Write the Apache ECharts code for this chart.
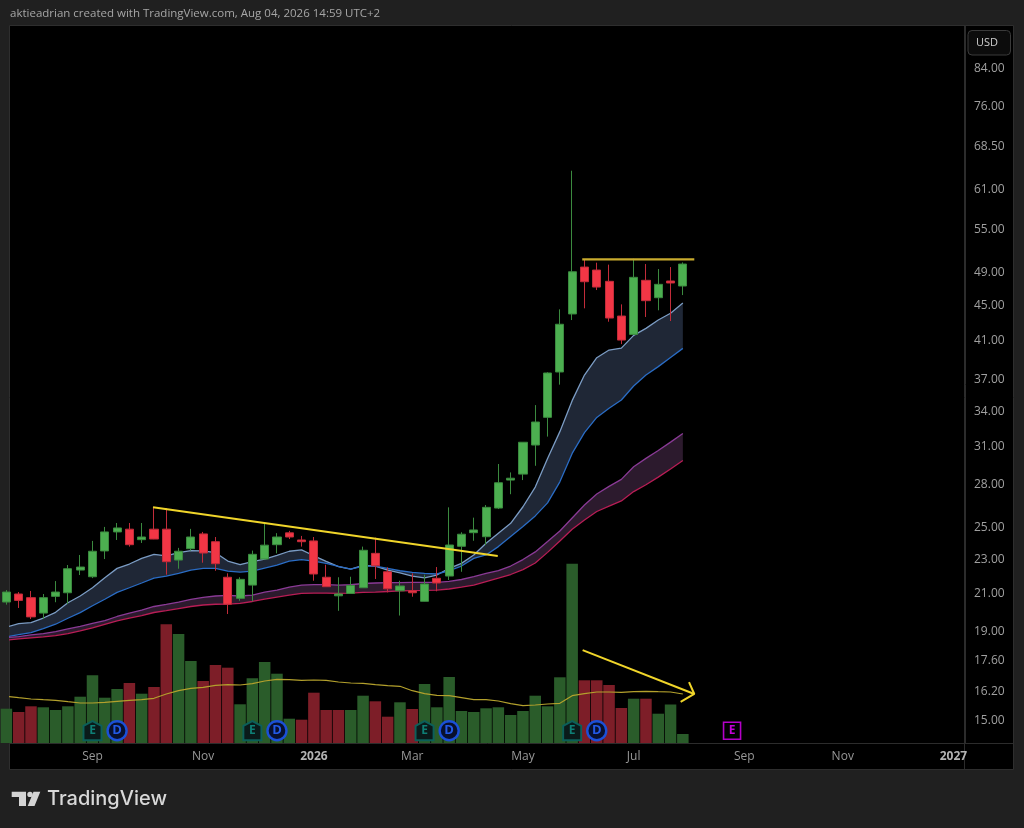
<!DOCTYPE html>
<html><head><meta charset="utf-8">
<style>html,body{margin:0;padding:0;background:#202020}#c{width:1024px;height:828px}</style>
<script src="https://cdn.jsdelivr.net/npm/echarts@6/dist/echarts.min.js"></script>
</head><body><div id="c"></div>
<script>
// Weekly OHLC (USD), index 0 = 2025-08-?? ... index 55 = 2026-08-03
const open  = [20.54,20.98,20.78,19.95,20.85,21.05,22.35,21.96,23.51,24.72,24.90,24.22,24.90,24.90,22.95,23.65,24.59,24.09,21.93,20.74,21.48,23.01,23.90,24.66,24.20,24.14,21.93,20.88,21.01,21.33,23.36,22.25,21.16,21.16,20.58,21.87,22.00,23.80,24.67,24.41,26.33,28.35,28.80,31.10,33.46,37.72,43.97,49.77,49.38,47.93,43.73,41.66,48.06,45.90,47.97,47.34];
const close = [21.09,20.63,19.75,20.78,21.09,22.43,22.53,23.49,24.72,24.98,23.90,24.39,24.26,22.85,23.49,24.39,23.38,22.73,20.42,21.81,23.30,23.87,24.39,24.39,24.09,22.12,21.39,20.98,21.46,23.55,22.60,21.27,21.43,21.05,21.54,21.60,23.88,24.57,24.85,26.38,28.15,28.49,31.33,33.05,37.62,42.79,49.16,47.88,47.21,43.50,41.04,48.44,45.54,47.55,47.72,50.17];
const low   = [20.40,20.22,19.64,19.64,20.53,20.43,22.06,21.88,23.01,24.20,23.78,24.01,24.25,22.08,22.43,23.53,22.79,22.31,19.90,20.61,20.58,23.00,23.36,24.26,23.78,21.73,21.38,20.07,21.00,21.32,21.83,21.07,19.82,20.83,20.57,21.13,21.77,22.25,24.15,23.88,26.26,27.31,28.35,29.44,31.80,36.48,43.27,44.63,46.84,43.08,40.60,41.64,43.62,44.40,43.16,46.22];
const high  = [21.20,21.09,21.15,20.98,21.71,22.65,23.26,24.14,25.05,25.31,25.31,25.31,26.38,26.33,23.70,24.92,24.72,24.39,22.16,21.93,23.53,25.36,24.64,24.79,24.46,24.39,22.67,21.93,21.96,23.78,24.35,22.51,21.73,22.16,22.08,22.53,26.38,24.70,25.67,26.54,29.58,28.93,31.35,34.56,37.69,44.51,64.20,50.71,50.35,50.09,45.10,50.88,50.17,49.51,49.77,50.39];

// Volume, millions of shares
const volume   = [3.43,3.10,3.67,3.57,3.30,3.67,4.63,6.77,4.53,5.40,6.00,4.93,5.60,11.87,10.90,8.20,6.20,7.80,7.53,3.87,6.47,8.10,6.93,2.43,2.33,5.03,3.30,3.30,3.30,4.73,4.17,2.63,4.07,3.40,5.90,3.57,6.60,3.20,3.10,3.47,3.57,2.80,3.20,4.73,3.67,6.57,17.93,6.27,6.27,5.80,3.50,4.43,4.43,2.93,3.85,0.90];
const volumeUp = [1,0,0,1,1,1,1,1,1,1,0,1,0,0,1,1,0,0,0,1,1,1,1,1,0,0,0,0,1,1,0,0,1,0,1,1,1,1,1,1,1,1,1,1,1,1,1,0,0,0,0,1,0,1,1,1];
const volumeMA = [4.67,4.53,4.40,4.33,4.27,4.13,4.00,4.00,4.07,4.17,4.27,4.33,4.47,4.90,5.23,5.47,5.57,5.77,5.83,5.80,5.93,6.20,6.37,6.33,6.27,6.30,6.27,6.10,6.00,5.97,5.83,5.73,5.67,5.23,4.93,4.77,4.73,4.53,4.33,4.33,4.20,3.93,3.73,3.80,3.90,3.97,4.73,4.93,5.10,5.10,5.07,5.13,5.17,5.13,5.10,4.90];

// Moving-average ribbons
const blueUpper = [19.22,19.40,19.45,19.69,19.99,20.50,20.87,21.33,21.90,22.45,22.71,23.05,23.30,23.21,23.40,23.53,23.51,23.40,22.89,22.67,22.85,23.01,23.24,23.49,23.57,23.21,22.87,22.55,22.41,22.63,22.59,22.35,22.19,22.00,21.90,22.06,22.45,22.75,23.26,23.99,24.64,25.29,26.42,27.83,30.02,32.22,34.97,37.42,39.17,39.97,40.18,41.55,42.33,43.27,44.05,45.25];
const blueLower = [18.73,18.85,18.95,19.15,19.37,19.68,19.97,20.34,20.69,21.07,21.33,21.60,21.88,22.00,22.16,22.35,22.45,22.45,22.29,22.23,22.29,22.47,22.65,22.89,22.97,22.89,22.75,22.57,22.41,22.59,22.59,22.45,22.31,22.21,22.16,22.12,22.31,22.59,23.05,23.26,23.78,24.42,25.07,25.79,26.69,28.22,30.42,32.13,33.45,34.27,35.03,36.35,37.42,38.26,39.20,40.15];
const purpleUpper = [18.70,18.75,18.83,18.90,19.00,19.13,19.26,19.41,19.56,19.77,19.95,20.11,20.30,20.41,20.54,20.68,20.79,20.87,20.90,20.87,20.92,21.09,21.20,21.37,21.48,21.51,21.51,21.48,21.50,21.57,21.60,21.62,21.62,21.63,21.63,21.64,21.69,21.80,21.97,22.15,22.32,22.59,22.98,23.45,24.10,24.78,25.65,26.54,27.33,27.88,28.40,29.36,30.02,30.66,31.34,32.07];
const crimsonLower = [18.58,18.63,18.68,18.73,18.80,18.90,19.03,19.18,19.36,19.54,19.69,19.82,19.98,20.08,20.19,20.30,20.38,20.42,20.43,20.47,20.57,20.70,20.81,20.92,21.01,21.03,21.03,21.02,21.03,21.07,21.09,21.12,21.15,21.17,21.18,21.20,21.26,21.36,21.48,21.68,21.88,22.09,22.38,22.77,23.42,24.14,24.89,25.51,26.09,26.47,26.83,27.50,28.00,28.57,29.19,29.85];

// Axis ticks
const priceTicks = [84,76,68.5,61,55,49,45,41,37,34,31,28,25,23,21,19,17.6,16.2,15];
const timeTickIdx = [7,16,25,33,42,51,60,68,77];
const timeTickLabels = ['Sep','Nov','2026','Mar','May','Jul','Sep','Nov','2027'];

// Drawn annotations: [week index, price]
const trendLine = [[11.92,26.38],[39.95,23.20]];
const resistance = [[46.82,50.8],[55.93,50.8]];
const arrowShaft = [[46.85,18.09],[55.93,16.11]];
const arrowHead = [[55.50,16.62],[55.93,16.11],[54.82,15.78]];

// Event markers (week index)
const earnings = [7,20,34,46];
const dividends = [9,22,36,48];
const nextEarnings = [59];
const eventLevel = 1.23;

const pairs = a => a.map((v,i)=>[i,v]);
const COMMON = {animation:false,silent:true};
const X_MIN = 0.293, X_MAX = 77.94;
const tickFont = '"Open Sans"';

function lineS(data,color,width,z,extra){
  return Object.assign({type:'line',data,xAxisIndex:0,yAxisIndex:0,symbol:'none',z,silent:true,
    lineStyle:{color,width},emphasis:{disabled:true}},extra||{});
}
function band(upper,lower,fill){
  return {type:'custom',xAxisIndex:0,yAxisIndex:0,z:3,clip:true,silent:true,
    data:[[0,upper[0]]],encode:{x:0,y:1},
    renderItem:(p,api)=>{
      const pts=upper.map((v,i)=>api.coord([i,v])).concat(lower.map((v,i)=>api.coord([i,v])).reverse());
      return {type:'polygon',shape:{points:pts},style:{fill}};
    }};
}
function marker(list,symbol,size,fill,stroke,bw,txt,txtColor,fs){
  return {type:'scatter',xAxisIndex:1,yAxisIndex:1,z:8,silent:true,symbol,symbolSize:size,
    data:list.map(i=>[i,eventLevel]),
    itemStyle:{color:fill,borderColor:stroke,borderWidth:bw,opacity:1},
    label:{show:true,position:'inside',formatter:txt,color:txtColor,fontSize:fs,fontWeight:'bold',fontFamily:'"Open Sans"'}};
}

const chart = echarts.init(document.getElementById('c'),null,{renderer:'canvas'});
chart.setOption({
  animation:false,
  backgroundColor:'#202020',
  grid:[
    {left:10,top:26,width:955,height:717,containLabel:false},
    {left:10,top:26,width:955,height:717,containLabel:false}
  ],
  xAxis:[
    {type:'value',gridIndex:0,min:X_MIN,max:X_MAX,position:'bottom',
     axisLine:{show:true,onZero:false,lineStyle:{color:'#2c2c2c',width:1}},axisTick:{show:false},splitLine:{show:false},
     axisLabel:{show:true,customValues:timeTickIdx,margin:8,color:'#989898',fontSize:12,fontFamily:tickFont,hideOverlap:false,
       showMinLabel:true,showMaxLabel:true,
       formatter:v=>{const s=timeTickLabels[timeTickIdx.indexOf(Math.round(v))];return /^\d+$/.test(s)?'{b|'+s+'}':s;},
       rich:{b:{fontWeight:'bold',color:'#b4b4b4',fontSize:12,fontFamily:tickFont}}}},
    {type:'value',gridIndex:1,min:X_MIN,max:X_MAX,show:false}
  ],
  yAxis:[
    {type:'log',logBase:10,gridIndex:0,min:14.153,max:94.1,position:'right',
     axisLine:{show:true,onZero:false,lineStyle:{color:'#2c2c2c',width:1}},axisTick:{show:false},splitLine:{show:false},minorTick:{show:false},
     axisLabel:{show:true,customValues:priceTicks,margin:9,color:'#a0a0a0',fontSize:12,fontFamily:tickFont,align:'left',
       showMinLabel:true,showMaxLabel:true,hideOverlap:false,
       formatter:v=>Number(v).toFixed(2)}},
    {type:'value',gridIndex:1,min:0,max:71.7,show:false}
  ],
  graphic:[
    {type:'rect',z:-10,shape:{x:9.5,y:25.5,width:1004,height:744},style:{fill:'#000',stroke:'#2e2e2e',lineWidth:1}},
    {type:'line',z:-5,shape:{x1:964.5,y1:26,x2:964.5,y2:769},style:{stroke:'#2c2c2c',lineWidth:1}},
    {type:'line',z:-5,shape:{x1:965,y1:743.5,x2:1013,y2:743.5},style:{stroke:'#2c2c2c',lineWidth:1}},
    {type:'rect',z:20,shape:{x:968,y:30.5,width:42.5,height:24.5,r:4},style:{fill:'#0c0c0c',stroke:'#3a3a3a',lineWidth:1}},
    {type:'text',z:21,style:{x:987,y:43,text:'USD',fill:'#cfcfcf',font:'11px "Open Sans"',textAlign:'center',textVerticalAlign:'middle'}},
    {type:'text',z:21,style:{x:10,y:13.5,text:'aktieadrian created with TradingView.com, Aug 04, 2026 14:59 UTC+2',fill:'#a6a6a6',font:'11.5px "Open Sans"',textAlign:'left',textVerticalAlign:'middle'}},
    {type:'polygon',z:21,shape:{points:[[11.7,791.7],[26,791.7],[26,806],[19,806],[19,797],[11.7,797]]},style:{fill:'#d4d4d4'}},
    {type:'circle',z:21,shape:{cx:30,cy:794.4,r:2.7},style:{fill:'#d4d4d4'}},
    {type:'polygon',z:21,shape:{points:[[33.5,791.7],[40.3,791.7],[34.5,806],[27.7,806]]},style:{fill:'#d4d4d4'}},
    {type:'text',z:21,style:{x:47,y:799,text:'TradingView',fill:'#d8d8d8',font:'500 20px "Inter"',textAlign:'left',textVerticalAlign:'middle'}}
  ],
  series:[
    {type:'bar',xAxisIndex:1,yAxisIndex:1,z:1,barWidth:11.5,silent:true,
     data:volume.map((v,i)=>({value:[i,v],itemStyle:{color:volumeUp[i]?'#2a5c2a':'#7d1e28'}}))},
    {type:'line',xAxisIndex:1,yAxisIndex:1,z:2,symbol:'none',silent:true,data:pairs(volumeMA),lineStyle:{color:'#b3a02c',width:1.2}},
    band(blueUpper,blueLower,'#1f2736'),
    band(purpleUpper,crimsonLower,'#2c1a2d'),
    lineS(pairs(blueUpper),'#7b9cc4',1.3,4),
    lineS(pairs(blueLower),'#2a6cc4',1.3,4),
    lineS(pairs(purpleUpper),'#8a3a96',1.3,4),
    lineS(pairs(crimsonLower),'#b81d55',1.3,4),
    {type:'candlestick',xAxisIndex:0,yAxisIndex:0,z:5,barWidth:8.6,silent:true,
     data:open.map((o,i)=>[i,o,close[i],low[i],high[i]]),
     encode:{x:0,y:[1,2,3,4]},
     itemStyle:{color:'#4caf50',color0:'#f23645',borderColor:'#3b8a3f',borderColor0:'#c22c3a',borderWidth:1}},
    lineS(trendLine,'#f0d52a',2,6),
    lineS(resistance,'#c9ab2e',2.2,6),
    lineS(arrowShaft,'#f0d52a',2,6),
    lineS(arrowHead,'#f0d52a',2,6),
    marker(earnings,'path://M0,-10 L10,-5 L10,10 L-10,10 L-10,-5 Z',[18,19],'#0a1a1a','#0c5f5a',2,'E','#0e7f76',12),
    marker(dividends,'circle',19,'#08102e','#1b50d8',2.4,'D','#2259e6',13),
    marker(nextEarnings,'rect',[17,17],'#000','#b400c8',1.6,'E','#c400d8',12),
    {type:'scatter',xAxisIndex:1,yAxisIndex:1,z:9,silent:true,symbolSize:1,itemStyle:{opacity:0},
     data:nextEarnings.map(i=>[i,eventLevel]),
     label:{show:true,position:'inside',offset:[-9,0],formatter:'=',color:'#c400d8',fontSize:11,fontWeight:'bold',fontFamily:'"Open Sans"'}}
  ]
});
</script></body></html>
